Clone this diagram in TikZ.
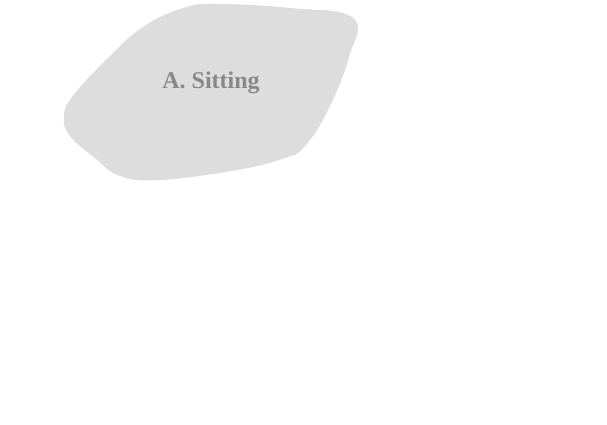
\documentclass[tikz,border=0pt]{standalone}
\usepackage{fontspec}
\setmainfont{Liberation Serif}
\definecolor{blobfill}{HTML}{DDDDDD}
\definecolor{blobtext}{HTML}{888888}
\tikzset{blob/.style={fill=blobfill,draw=none},
  bloblabel/.style={text=blobtext,font=\bfseries\fontsize{24}{28}\selectfont,inner sep=0pt}}
\begin{document}
\begin{tikzpicture}[x=1pt,y=-1pt]
\useasboundingbox (0,0) rectangle (607,424);
\fill[white] (0,0) rectangle (607,424);
\path[blob] plot[smooth cycle,tension=0.7] coordinates {
  (217,4) (290,8) (353,18) (349,57) (328,110) (305,146) (285,158)
  (237,170) (160,180) (120,176) (95,158) (70,136) (64,118) (72,97)
  (108,58) (143,27) (183,8)};
\node[bloblabel] (sitting) at (211,83) {A. Sitting};
\end{tikzpicture}
\end{document}
